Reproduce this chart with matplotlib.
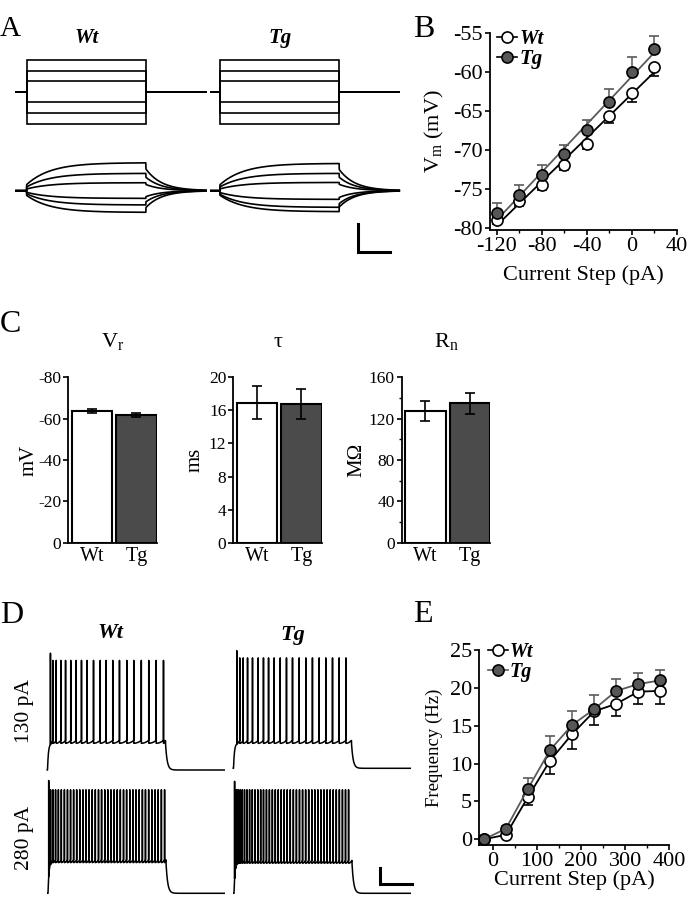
import numpy as np
import matplotlib
matplotlib.use('Agg')
import matplotlib.pyplot as plt
from matplotlib.lines import Line2D
from matplotlib.ticker import FixedLocator

plt.rcParams['font.family'] = ['Liberation Serif', 'DejaVu Serif']
plt.rcParams['mathtext.fontset'] = 'custom'
plt.rcParams['mathtext.rm'] = 'Liberation Serif'
plt.rcParams['mathtext.it'] = 'Liberation Serif:italic'
plt.rcParams['mathtext.bf'] = 'Liberation Serif:bold'
plt.rcParams['axes.unicode_minus'] = False

# ---------------- data ----------------
# Panel A: step protocol (pA) and passive voltage responses (mV at step end)
a_currents = [-60, -40, -20, 20, 40, 60]
a_resp_wt = [-15.5, -10.2, -5.5, 5.7, 12.4, 20.0]
a_resp_tg = [-15.0, -11.9, -6.2, 5.9, 12.4, 19.5]
a_step_ms = 300
a_tau_on, a_tau_off, a_fast = 60.0, 40.0, 0.22

# Panel B: V-I relation
b_steps = [-120, -100, -80, -60, -40, -20, 0, 20]
b_vm_wt = [-79.0, -76.6, -74.5, -72.0, -69.2, -65.6, -62.7, -59.4]
b_err_wt = [0.5, 0.6, 0.6, 0.6, 0.7, 1.0, 1.1, 1.1]
b_vm_tg = [-78.1, -75.8, -73.3, -70.6, -67.5, -63.9, -60.0, -57.0]
b_err_tg = [1.3, 1.3, 1.4, 1.2, 1.3, 1.7, 1.9, 1.6]

# Panel C: passive properties
groups = ['Wt', 'Tg']
vr_mean = [-63.7, -61.6]
vr_err = [1.0, 0.9]
tau_mean = [16.9, 16.8]
tau_err = [2.0, 1.8]
rn_mean = [127.6, 134.8]
rn_err = [9.5, 10.0]

# Panel D: spike trains (spike times in ms after step onset)
d_step_ms = 1000
spk_wt_130 = [25, 45, 74, 113, 153, 197, 243, 288, 336, 390, 447, 497, 553,
              610, 672, 731, 795, 858, 921, 983]
spk_tg_130 = [28, 53, 82, 119, 161, 209, 254, 297, 345, 396, 449, 500, 557,
              613, 669, 726, 782, 839, 896, 952]
spk_wt_280 = [6, 22, 42, 64, 88, 113, 139, 165, 191, 217, 243, 269, 296, 322,
              348, 375, 401, 428, 454, 481, 507, 534, 560, 587, 613, 640, 666,
              693, 720, 746, 773, 800, 826, 853, 880, 907, 934, 961, 988]
spk_tg_280 = [5, 14, 25, 38, 53, 70, 89, 110, 132, 155, 178, 202, 226, 250,
              275, 300, 325, 350, 375, 400, 425, 451, 477, 503, 529, 555, 581,
              607, 633, 659, 685, 711, 737, 763, 789, 815, 841, 867, 893, 919,
              945, 971]
d_plateau = {'wt130': -53.3, 'tg130': -54.4, 'wt280': -50.8, 'tg280': -51.2}
d_peak = {'wt130': (-1.5, 3.0), 'tg130': (-1.0, 3.5), 'wt280': (-5.3, 0.5), 'tg280': (-5.3, 0.0)}

# Panel E: F-I relation
e_steps = [-20, 30, 80, 130, 180, 230, 280, 330, 380]
e_f_wt = [0.0, 0.6, 5.6, 10.4, 13.9, 16.9, 17.9, 19.5, 19.6]
e_err_wt = [0.0, 0.3, 1.1, 1.8, 2.0, 1.8, 1.6, 1.6, 1.7]
e_f_tg = [0.0, 1.4, 6.7, 11.8, 15.1, 17.2, 19.6, 20.5, 21.0]
e_err_tg = [0.0, 0.4, 1.4, 1.8, 1.8, 1.8, 1.6, 1.5, 1.3]

# ---------------- style ----------------
W, H = 696, 900
fig = plt.figure(figsize=(W / 100, H / 100), dpi=100)
TG_FILL = '#575757'
TG_LINE = '#5a5a5a'
BAR_GRAY = '#4b4b4b'
BI = dict(weight='bold', style='italic')


def add_ax(l, t, r, b):
    return fig.add_axes([l / W, 1 - b / H, (r - l) / W, (b - t) / H])


def data_ax(x0px, y0px, x0, y0, xlim, ylim, xs, ys):
    l = x0px + (xlim[0] - x0) * xs
    r = x0px + (xlim[1] - x0) * xs
    t = y0px - (ylim[1] - y0) * ys
    b = y0px - (ylim[0] - y0) * ys
    ax = add_ax(l, t, r, b)
    ax.set_xlim(*xlim)
    ax.set_ylim(*ylim)
    ax.axis('off')
    ax.patch.set_alpha(0)
    return ax


def style(ax, tick):
    for s in ['top', 'right']:
        ax.spines[s].set_visible(False)
    for s in ['left', 'bottom']:
        ax.spines[s].set_linewidth(1.3)
    ax.tick_params(which='major', direction='out', length=3.5, width=1.2,
                   labelsize=tick, pad=1.5)
    ax.tick_params(which='minor', direction='out', length=2.0, width=1.0)
    ax.patch.set_alpha(0)


def letter(x, y, s, size=23):
    fig.text(x / W, 1 - y / H, s, fontsize=size, ha='left', va='baseline')


def legend(ax, fill_line, anchor, size):
    h = [Line2D([], [], color='black', marker='o', mfc='white', mec='black',
                ms=8, mew=1.2, lw=1.2),
         Line2D([], [], color=fill_line, marker='o', mfc=TG_FILL, mec='black',
                ms=8, mew=1.2, lw=1.2)]
    ax.legend(h, groups, loc='upper left', bbox_to_anchor=anchor,
              frameon=False, borderpad=0, borderaxespad=0, handlelength=1.0,
              handletextpad=0.1, labelspacing=0.0,
              prop=dict(family='Liberation Serif', size=size, **BI))


# ---------------- Panel A ----------------
letter(0, 36, 'A', 21)
for name, onset, resp, tpre in [('Wt', 26.7, a_resp_wt, -27), ('Tg', 220.0, a_resp_tg, -23)]:
    xs_a = 0.397
    axp = data_ax(onset, 91.7, 0, 0, (-30, 460), (-70, 70), xs_a, 0.53)
    tend = 452
    for I in a_currents:
        axp.plot([tpre, 0, 0, a_step_ms, a_step_ms, tend], [0, 0, I, I, 0, 0],
                 color='black', lw=1.2, solid_joinstyle='miter')
    axv = data_ax(onset, 190.7, 0, -70, (-30, 460), (-115, -40), xs_a, 1.4)
    t = np.arange(tpre, tend, 0.5)
    for amp in resp:
        v = np.full_like(t, -70.0)
        on = (t >= 0) & (t <= a_step_ms)
        v[on] = -70 + amp * (a_fast + (1 - a_fast) * (1 - np.exp(-t[on] / a_tau_on)))
        off = t > a_step_ms
        v[off] = -70 + amp * (1 - a_fast) * np.exp(-(t[off] - a_step_ms) / a_tau_off)
        axv.plot(t, v, color='black', lw=1.2)
    if name == 'Tg':
        # scale bar: 20 mV, 80 ms
        axv.plot([348, 348, 428], [-93.5, -113.5, -113.5], color='black', lw=2.2,
                 solid_joinstyle='miter', clip_on=False)
    fig.text((onset + 60) / W, 1 - 38 / H, name, fontsize=15, ha='center',
             va='center', **BI)

# ---------------- Panel B ----------------
letter(413, 37, 'B')
axB = add_ax(490, 33, 676.7, 230)
style(axB, 16)
axB.set_xlim(-126, 40)
axB.set_ylim(-80.3, -55)
xb = np.array(b_steps, float)
for vm, err, fc, lc, up in [(b_vm_wt, b_err_wt, 'white', 'black', False),
                            (b_vm_tg, b_err_tg, TG_FILL, TG_LINE, True)]:
    vm = np.array(vm)
    p = np.polyfit(xb, vm, 1)
    axB.plot(xb, np.polyval(p, xb), color=lc, lw=1.3, zorder=2)
    z = np.zeros_like(vm)
    yerr = [z, np.array(err)] if up else [np.array(err), z]
    axB.errorbar(xb, vm, yerr=yerr, fmt='o', ms=8, mfc=fc, mec='black', mew=1.2,
                 ecolor=lc, elinewidth=1.1, capsize=3.5, capthick=1.1, zorder=3)
axB.set_xticks([-120, -80, -40, 0, 40])
axB.xaxis.set_minor_locator(FixedLocator([-100, -60, -20, 20]))
axB.set_yticks([-80, -75, -70, -65, -60, -55])
axB.set_xlabel('Current Step (pA)', fontsize=16)
axB.set_ylabel('V$_\\mathrm{m}$ (mV)', fontsize=16)
axB.xaxis.set_label_coords(0.5, -0.18)
axB.yaxis.set_label_coords(-0.236, 0.5)
legend(axB, 'black', (0.035, 1.02), 15)

# ---------------- Panel C ----------------
letter(0, 332, 'C')
c_specs = [
    (68.3, vr_mean, vr_err, (0, -80), [0, -20, -40, -60, -80], None, 'mV', 'V$_\\mathrm{r}$', -0.34),
    (233.3, tau_mean, tau_err, (0, 20), [0, 4, 8, 12, 16, 20], None, 'ms', '\u03c4', -0.32),
    (401.7, rn_mean, rn_err, (0, 160), [0, 40, 80, 120, 160], [20, 60, 100, 140], 'M\u03a9', 'R$_\\mathrm{n}$', -0.40),
]
for left, mean, err, ylim, ticks, minors, ylab, title, ylc in c_specs:
    ax = add_ax(left, 377.3, left + 88.3, 542.7)
    style(ax, 12.5)
    ax.set_xlim(-0.53, 1.455)
    ax.set_ylim(*ylim)
    ax.bar([0, 1], mean, width=0.91, color=['white', BAR_GRAY], edgecolor='black',
           linewidth=1.5, zorder=2)
    ax.errorbar([0, 1], mean, yerr=err, fmt='none', ecolor='black', elinewidth=1.2,
                capsize=3.5, capthick=1.2, zorder=3)
    ax.set_yticks(ticks)
    if minors:
        ax.yaxis.set_minor_locator(FixedLocator(minors))
    ax.set_xticks([0, 1])
    ax.set_xticklabels(groups, fontsize=14.5)
    ax.tick_params(axis='x', length=0, pad=3)
    ax.set_ylabel(ylab, fontsize=15)
    ax.yaxis.set_label_coords(ylc, 0.5)
    ax.text(0.5, 1.183, title, transform=ax.transAxes, ha='center', va='baseline',
            fontsize=16)

# ---------------- Panel D ----------------
letter(0, 623, 'D')
xs_d, ys_d = 0.118, 1.6
d_rows = [
    ('wt130', 47.5, 770.0, spk_wt_130),
    ('tg130', 233.5, 768.3, spk_tg_130),
    ('wt280', 48.0, 893.3, spk_wt_280),
    ('tg280', 234.0, 893.3, spk_tg_280),
]
for key, onset, basey, spikes in d_rows:
    ax = data_ax(onset, basey, 0, -70, (-10, 1500), (-75, 10), xs_d, ys_d)
    t = np.arange(-2, 1505, 0.25)
    T = d_step_ms
    base = -70.0
    dv = d_plateau[key] - base
    v = np.full_like(t, base)
    on = (t >= 0) & (t <= T)
    v[on] = base + dv * (1 - np.exp(-t[on] / 8.0))
    off = t > T
    v[off] = base + dv * np.exp(-(t[off] - T) / 14.0)
    pk, first_pk = d_peak[key]
    sp = list(spikes) + [T]
    for i in range(len(spikes)):
        t0, t1 = sp[i], sp[i + 1]
        m = (t > t0) & (t < t1)
        frac = (t[m] - t0) / (t1 - t0)
        v[m] += 1.8 * frac ** 2
        k = np.searchsorted(t, t0)
        v[k] = first_pk if i == 0 else pk
    ax.plot(t, v, color='black', lw=1.1)
    if key == 'tg280':
        # scale bar: 10 mV, 270 ms
        ax.plot([1237, 1237, 1507], [-54.1, -64.1, -64.1], color='black', lw=2.2,
                solid_joinstyle='miter', clip_on=False)
fig.text(110 / W, 1 - 633 / H, 'Wt', fontsize=16, ha='center', va='center', **BI)
fig.text(293 / W, 1 - 635 / H, 'Tg', fontsize=16, ha='center', va='center', **BI)
fig.text(25 / W, 1 - 711 / H, '130 pA', fontsize=15.5, rotation=90, ha='center', va='center')
fig.text(25 / W, 1 - 838 / H, '280 pA', fontsize=15.5, rotation=90, ha='center', va='center')

# ---------------- Panel E ----------------
letter(413, 622, 'E')
axE = add_ax(479, 650, 669.3, 845.3)
style(axE, 16)
axE.set_xlim(-31, 400)
axE.set_ylim(-0.79, 25)
xe = np.array(e_steps, float)
for f, err, fc, lc, up in [(e_f_wt, e_err_wt, 'white', 'black', False),
                           (e_f_tg, e_err_tg, TG_FILL, TG_LINE, True)]:
    f = np.array(f)
    z = np.zeros_like(f)
    yerr = [z, np.array(err)] if up else [np.array(err), z]
    axE.errorbar(xe, f, yerr=yerr, fmt='-o', color=lc, ms=8, mfc=fc, mec='black',
                 mew=1.2, lw=1.3, ecolor=lc, elinewidth=1.1, capsize=3.5,
                 capthick=1.1, clip_on=False)
axE.set_xticks([0, 100, 200, 300, 400])
axE.xaxis.set_minor_locator(FixedLocator([50, 150, 250, 350]))
axE.set_yticks([0, 5, 10, 15, 20, 25])
axE.set_xlabel('Current Step (pA)', fontsize=16)
axE.set_ylabel('Frequency (Hz)', fontsize=13.5)
axE.xaxis.set_label_coords(0.5, -0.13)
axE.yaxis.set_label_coords(-0.19, 0.5)
legend(axE, TG_LINE, (0.045, 1.04), 14.5)

fig.savefig('out.png', dpi=100)
